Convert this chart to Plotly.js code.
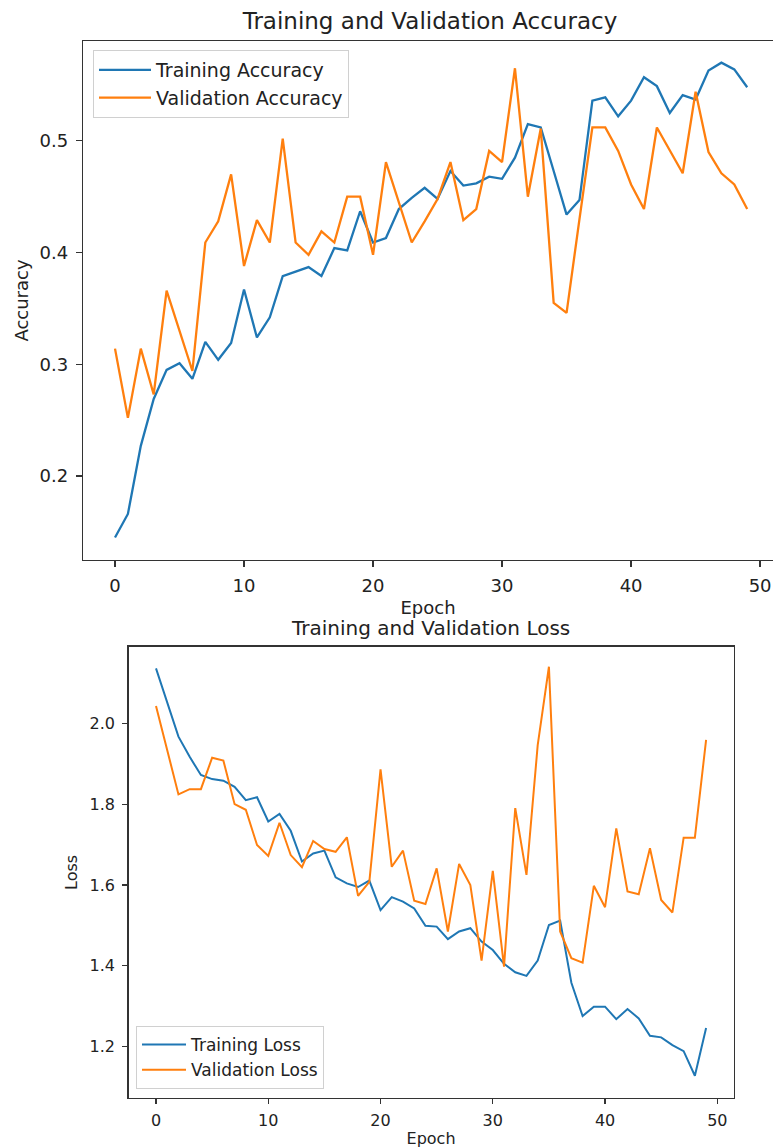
<!DOCTYPE html>
<html>
<head>
<meta charset="utf-8">
<script src="https://cdn.plot.ly/plotly-3.0.1.min.js"></script>
<style>html,body{margin:0;padding:0;background:#fff;}#chart{width:773px;height:1148px;}</style>
</head>
<body>
<div id="chart"></div>
<script>
const epochs = Array.from({length: 50}, (_, i) => i);

const trainAcc = [0.145, 0.166, 0.227, 0.269, 0.295, 0.301, 0.287, 0.320, 0.304, 0.319,
  0.367, 0.324, 0.342, 0.379, 0.383, 0.387, 0.379, 0.404, 0.402, 0.437,
  0.409, 0.413, 0.439, 0.449, 0.458, 0.448, 0.473, 0.460, 0.462, 0.468,
  0.466, 0.485, 0.515, 0.512, 0.473, 0.434, 0.447, 0.536, 0.539, 0.522,
  0.536, 0.557, 0.549, 0.525, 0.541, 0.537, 0.563, 0.570, 0.564, 0.548];

const valAcc = [0.314, 0.252, 0.314, 0.273, 0.366, 0.331, 0.294, 0.409, 0.428, 0.470,
  0.388, 0.429, 0.409, 0.502, 0.409, 0.398, 0.419, 0.409, 0.450, 0.450,
  0.398, 0.481, 0.445, 0.409, 0.428, 0.448, 0.481, 0.429, 0.439, 0.491,
  0.481, 0.565, 0.450, 0.511, 0.355, 0.346, 0.430, 0.512, 0.512, 0.491,
  0.461, 0.439, 0.512, 0.491, 0.471, 0.544, 0.490, 0.471, 0.461, 0.439];

const trainLoss = [2.136, 2.050, 1.967, 1.917, 1.872, 1.862, 1.858, 1.843, 1.810, 1.817,
  1.757, 1.776, 1.734, 1.658, 1.678, 1.685, 1.619, 1.604, 1.595, 1.611,
  1.538, 1.570, 1.559, 1.542, 1.499, 1.497, 1.466, 1.485, 1.493, 1.460,
  1.439, 1.405, 1.384, 1.375, 1.413, 1.501, 1.512, 1.358, 1.276, 1.299,
  1.299, 1.268, 1.293, 1.270, 1.227, 1.223, 1.204, 1.189, 1.128, 1.246];

const valLoss = [2.043, 1.932, 1.824, 1.837, 1.837, 1.915, 1.908, 1.800, 1.786, 1.699,
  1.672, 1.754, 1.674, 1.644, 1.709, 1.689, 1.682, 1.718, 1.573, 1.608,
  1.886, 1.645, 1.685, 1.561, 1.553, 1.641, 1.485, 1.652, 1.600, 1.413,
  1.635, 1.398, 1.790, 1.625, 1.946, 2.140, 1.485, 1.419, 1.408, 1.598,
  1.545, 1.740, 1.584, 1.577, 1.691, 1.563, 1.532, 1.717, 1.717, 1.959];

const accTicks = [0.2, 0.3, 0.4, 0.5];
const accTickText = ['0.2', '0.3', '0.4', '0.5'];
const lossTicks = [1.2, 1.4, 1.6, 1.8, 2.0];
const lossTickText = ['1.2', '1.4', '1.6', '1.8', '2.0'];
const epochTicks = [0, 10, 20, 30, 40, 50];

const BLUE = '#1f77b4', ORANGE = '#ff7f0e';
const FONT = 'DejaVu Sans, Verdana, sans-serif';
const W = 773, H = 1148;
const px = v => v / W;
const py = v => 1 - v / H;

const traces = [
  {x: epochs, y: trainAcc, name: 'Training Accuracy', mode: 'lines', line: {color: BLUE, width: 2.3}, xaxis: 'x', yaxis: 'y', legend: 'legend'},
  {x: epochs, y: valAcc, name: 'Validation Accuracy', mode: 'lines', line: {color: ORANGE, width: 2.3}, xaxis: 'x', yaxis: 'y', legend: 'legend'},
  {x: epochs, y: trainLoss, name: 'Training Loss', mode: 'lines', line: {color: BLUE, width: 2}, xaxis: 'x2', yaxis: 'y2', legend: 'legend2'},
  {x: epochs, y: valLoss, name: 'Validation Loss', mode: 'lines', line: {color: ORANGE, width: 2}, xaxis: 'x2', yaxis: 'y2', legend: 'legend2'}
];

const axisCommon = {
  showgrid: false, zeroline: false, showline: true, linecolor: '#333', linewidth: 1.3,
  ticks: 'outside', tickwidth: 1.2, tickcolor: '#333'
};

const layout = {
  width: W, height: H, autosize: false,
  margin: {l: 0, r: 0, t: 0, b: 0},
  paper_bgcolor: '#fff', plot_bgcolor: '#fff',
  font: {family: FONT, color: '#222'},
  title: {text: 'Training and Validation Accuracy', font: {size: 23, family: FONT, color: '#222'}, x: px(430), xanchor: 'center', y: py(21), yanchor: 'middle', xref: 'paper', yref: 'paper'},
  xaxis: Object.assign({}, axisCommon, {
    domain: [px(83), 1], range: [-2.48, 51.0], anchor: 'y', mirror: true,
    ticklen: 6, ticklabelstandoff: 3,
    tickvals: epochTicks, tickfont: {size: 18},
    title: {text: 'Epoch', font: {size: 18}, standoff: 6}
  }),
  yaxis: Object.assign({}, axisCommon, {
    domain: [py(560), py(41)], range: [0.1248, 0.5894], anchor: 'x',
    ticklen: 6, ticklabelstandoff: 4,
    tickvals: accTicks, ticktext: accTickText, tickfont: {size: 18},
    title: {text: 'Accuracy', font: {size: 18}, standoff: 6}
  }),
  xaxis2: Object.assign({}, axisCommon, {
    domain: [px(128.5), px(733.6)], range: [-2.45, 51.45], anchor: 'y2', mirror: true,
    ticklen: 5, ticklabelstandoff: 2,
    tickvals: epochTicks, tickfont: {size: 16},
    title: {text: 'Epoch', font: {size: 16}, standoff: 6}
  }),
  yaxis2: Object.assign({}, axisCommon, {
    domain: [py(1098), py(646.7)], range: [1.073, 2.1895], anchor: 'x2', mirror: true,
    ticklen: 5, ticklabelstandoff: 4,
    tickvals: lossTicks, ticktext: lossTickText, tickfont: {size: 16},
    title: {text: 'Loss', font: {size: 16}, standoff: 8}
  }),
  annotations: [
    {text: 'Training and Validation Loss', xref: 'paper', yref: 'paper', x: px(430), y: py(628), xanchor: 'center', yanchor: 'middle', showarrow: false, font: {size: 20, family: FONT, color: '#222'}}
  ],
  legend: {
    x: px(93), y: py(50), xanchor: 'left', yanchor: 'top',
    bgcolor: 'rgba(255,255,255,0.85)', bordercolor: '#d0d0d0', borderwidth: 1,
    font: {size: 19, family: FONT, color: '#222'}, tracegroupgap: 0, itemwidth: 52
  },
  legend2: {
    x: px(136), y: py(1089), xanchor: 'left', yanchor: 'bottom',
    bgcolor: 'rgba(255,255,255,0.85)', bordercolor: '#d0d0d0', borderwidth: 1,
    font: {size: 17, family: FONT, color: '#222'}, tracegroupgap: 0, itemwidth: 44
  },
  showlegend: true
};

Plotly.newPlot('chart', traces, layout, {staticPlot: true, displayModeBar: false});
</script>
</body>
</html>
